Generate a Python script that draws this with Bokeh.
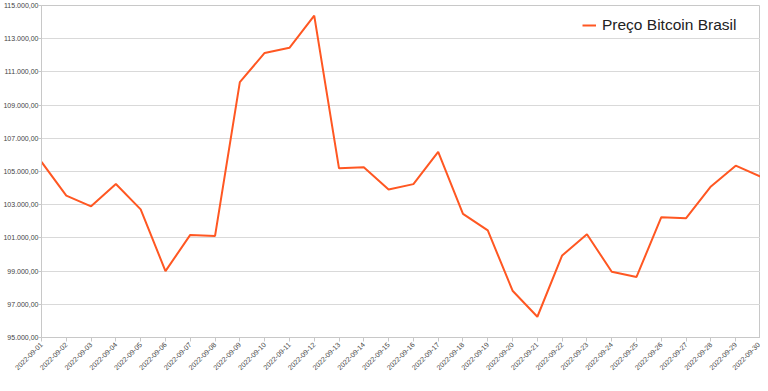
from bokeh.plotting import figure
from bokeh.models import FixedTicker, Range1d
from bokeh.embed import file_html
from bokeh.resources import INLINE

dates = ["2022-09-01", "2022-09-02", "2022-09-03", "2022-09-04", "2022-09-05",
         "2022-09-06", "2022-09-07", "2022-09-08", "2022-09-09", "2022-09-10",
         "2022-09-11", "2022-09-12", "2022-09-13", "2022-09-14", "2022-09-15",
         "2022-09-16", "2022-09-17", "2022-09-18", "2022-09-19", "2022-09-20",
         "2022-09-21", "2022-09-22", "2022-09-23", "2022-09-24", "2022-09-25",
         "2022-09-26", "2022-09-27", "2022-09-28", "2022-09-29", "2022-09-30"]
prices = [105580, 103550, 102900, 104250, 102720,
          99000, 101180, 101120, 110380, 112140,
          112450, 114390, 105190, 105250, 103920,
          104240, 106180, 102450, 101450, 97820,
          96250, 99940, 101220, 98960, 98650,
          102250, 102190, 104100, 105350, 104690]
y_ticks = [95000, 97000, 99000, 101000, 103000, 105000, 107000, 109000,
           111000, 113000, 115000]
series_name = "Preço Bitcoin Brasil"


def fmt_br(v):
    s = f"{v:,.2f}"
    return s.replace(",", "X").replace(".", ",").replace("X", ".")


x = list(range(len(dates)))

p = figure(width=760, height=375, output_backend="svg", toolbar_location=None,
           x_range=Range1d(0, len(dates) - 1), y_range=Range1d(95000, 115000),
           min_border_left=40, min_border_right=0, min_border_top=5,
           min_border_bottom=35)

line_color = "#ff5722"
p.line(x, prices, line_color=line_color, line_width=2, legend_label=series_name)

grid_col = "#d9d9d9"
axis_col = "#c8c8c8"
p.xgrid.grid_line_color = None
p.ygrid.grid_line_color = grid_col
p.ygrid.ticker = FixedTicker(ticks=y_ticks)
p.outline_line_color = axis_col

p.xaxis.ticker = FixedTicker(ticks=x)
p.xaxis.major_label_overrides = {i: d for i, d in enumerate(dates)}
p.xaxis.major_label_orientation = 0.785398
p.yaxis.ticker = FixedTicker(ticks=y_ticks)
p.yaxis.major_label_overrides = {t: fmt_br(t) for t in y_ticks}

for ax in (p.xaxis[0], p.yaxis[0]):
    ax.axis_line_color = axis_col
    ax.major_tick_line_color = axis_col
    ax.minor_tick_line_color = None
    ax.major_tick_in = 0
    ax.major_label_text_font = "Liberation Sans"
    ax.major_label_text_font_size = "7px"
    ax.major_label_text_color = "#444444"

p.xaxis.major_tick_out = 4
p.xaxis.major_label_standoff = 2
p.yaxis.major_tick_out = 3
p.yaxis.major_label_standoff = 0

leg = p.legend[0]
leg.location = (541, 303)
leg.padding = 0
leg.margin = 0
leg.spacing = 0
leg.glyph_width = 14
leg.glyph_height = 16
leg.label_standoff = 6
leg.label_height = 16
leg.label_text_font = "Liberation Sans"
leg.label_text_font_size = "15.5px"
leg.label_text_color = "#222222"
leg.background_fill_alpha = 0
leg.border_line_alpha = 0

open("out.html", "w").write(file_html(p, INLINE))
